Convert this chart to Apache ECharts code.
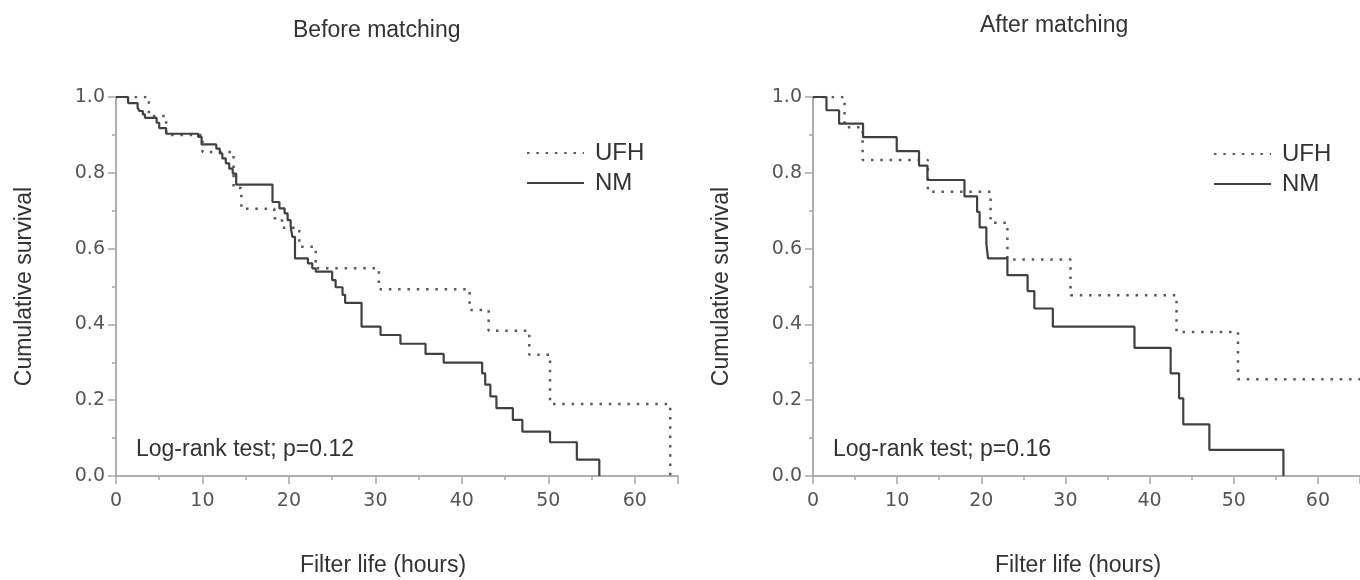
<!DOCTYPE html>
<html>
<head>
<meta charset="utf-8">
<script src="https://cdn.jsdelivr.net/npm/echarts@6/dist/echarts.min.js"></script>
<style>
  html, body { margin: 0; padding: 0; background: #fff; overflow: hidden; }
  #main { width: 1360px; height: 580px; }
</style>
</head>
<body>
<div id="main"></div>
<script>
// Before matching (hours / survival)
var beforeNmTime = [0, 1.4, 2.5, 2.7, 3.1, 3.35, 4.7, 5.0, 5.8, 9.5, 9.9, 11.6, 12.0, 12.3, 12.7, 13.1, 13.5, 13.9, 18.1, 18.9, 19.5, 19.85, 20.2, 20.4, 20.7, 22.2, 22.7, 23.1, 25.0, 25.4, 26.2, 26.5, 28.4, 30.6, 32.9, 35.8, 37.9, 42.35, 42.7, 43.3, 44.0, 45.9, 47.0, 50.2, 53.3, 55.9];
var beforeNmSurv = [1.0, 0.984, 0.972, 0.963, 0.954, 0.945, 0.932, 0.918, 0.903, 0.895, 0.875, 0.864, 0.851, 0.838, 0.825, 0.811, 0.798, 0.769, 0.723, 0.706, 0.693, 0.675, 0.658, 0.631, 0.574, 0.561, 0.548, 0.539, 0.517, 0.498, 0.478, 0.457, 0.394, 0.372, 0.349, 0.322, 0.299, 0.271, 0.241, 0.210, 0.179, 0.148, 0.117, 0.089, 0.043, 0];
var beforeUfhTime = [0, 3.8, 5.8, 10.0, 13.6, 14.5, 18.3, 19.2, 21.2, 23.1, 30.4, 40.9, 43.1, 47.8, 50.2, 64.1];
var beforeUfhSurv = [1.0, 0.95, 0.90, 0.855, 0.76, 0.705, 0.68, 0.655, 0.605, 0.548, 0.493, 0.438, 0.383, 0.32, 0.19, 0];

// After matching
var afterNmTime = [0, 1.6, 3.1, 5.95, 9.95, 12.6, 13.6, 18.0, 19.5, 19.8, 20.6, 20.8, 23.1, 25.5, 26.3, 28.5, 38.2, 42.5, 43.5, 44.0, 47.1, 55.9];
var afterNmSurv = [1.0, 0.965, 0.93, 0.894, 0.857, 0.819, 0.781, 0.738, 0.697, 0.656, 0.613, 0.574, 0.530, 0.488, 0.442, 0.394, 0.338, 0.271, 0.205, 0.136, 0.069, 0];
var afterUfhTime = [0, 3.75, 5.9, 13.65, 21.1, 23.1, 30.6, 43.2, 50.5, 65];
var afterUfhSurv = [1.0, 0.92, 0.834, 0.75, 0.668, 0.571, 0.477, 0.38, 0.255, 0.255];

var panelTitles = ['Before matching', 'After matching'];
var pValues = ['Log-rank test; p=0.12', 'Log-rank test; p=0.16'];
var groupNames = ['UFH', 'NM'];
var xName = 'Filter life (hours)';
var yName = 'Cumulative survival';

var axisGray = '#a8a8a8';
var textColor = '#333';
var tickFont = 'DejaVu Sans';
var textFont = 'Liberation Sans';

function pairs(t, s) {
  var out = [];
  for (var i = 0; i < t.length; i++) out.push([t[i], s[i]]);
  return out;
}

function bottomAxis(grid) {
  return {
    type: 'value', gridIndex: grid, min: 0, max: 65, interval: 10,
    axisLine: { show: true, lineStyle: { color: axisGray, width: 1.5 } },
    axisTick: { show: true, length: 8, lineStyle: { color: axisGray, width: 1.5 } },
    minorTick: { show: true, splitNumber: 2, length: 4, lineStyle: { color: axisGray, width: 1.5 } },
    axisLabel: { fontFamily: tickFont, fontSize: 19, color: '#555', margin: 16, showMaxLabel: false },
    splitLine: { show: false }
  };
}
function topAxis(grid) {
  return {
    type: 'value', gridIndex: grid, min: 0, max: 65, position: 'top',
    axisLine: { show: true, lineStyle: { color: axisGray, width: 1.5 } },
    axisTick: { show: false }, axisLabel: { show: false }, splitLine: { show: false }
  };
}
function leftAxis(grid) {
  return {
    type: 'value', gridIndex: grid, min: 0, max: 1, interval: 0.2,
    name: yName, nameLocation: 'middle', nameGap: 80, nameRotate: 90,
    nameTextStyle: { fontFamily: textFont, fontSize: 23, color: textColor },
    axisLine: { show: true, lineStyle: { color: axisGray, width: 1.5 } },
    axisTick: { show: true, length: 8, lineStyle: { color: axisGray, width: 1.5 } },
    minorTick: { show: true, splitNumber: 2, length: 4, lineStyle: { color: axisGray, width: 1.5 } },
    axisLabel: { fontFamily: tickFont, fontSize: 19, color: '#555', margin: 11,
      formatter: function (v) { return v.toFixed(1); } },
    splitLine: { show: false }
  };
}
function rightAxis(grid) {
  return {
    type: 'value', gridIndex: grid, min: 0, max: 1, position: 'right',
    axisLine: { show: true, lineStyle: { color: axisGray, width: 1.5 } },
    axisTick: { show: false }, axisLabel: { show: false }, splitLine: { show: false }
  };
}

function kmSeries(name, data, idx, dotted) {
  var col = dotted ? '#5a5a5a' : '#404040';
  return {
    name: name, type: 'line', step: 'end', data: data,
    xAxisIndex: idx, yAxisIndex: idx,
    symbol: 'none', animation: false,
    itemStyle: { color: col },
    lineStyle: dotted
      ? { color: col, width: 2.5, type: [2.5, 6.8] }
      : { color: col, width: 2.2 }
  };
}

function legendAt(left, top) {
  return {
    data: groupNames, orient: 'vertical', left: left, top: top,
    itemWidth: 57, itemHeight: 16, itemGap: 6,
    selectedMode: false,
    itemStyle: { opacity: 0 },
    textStyle: { fontFamily: textFont, fontSize: 24, color: textColor, padding: [0, 0, 0, 6] }
  };
}

function label(text, x, y, align) {
  return { type: 'text', x: x, y: y,
    style: { text: text, fontFamily: textFont, fontSize: 23, fill: textColor,
      textAlign: align, textVerticalAlign: 'middle' } };
}

var chart = echarts.init(document.getElementById('main'));
var option = {
  backgroundColor: '#fff',
  animation: false,
  title: [
    { text: panelTitles[0], left: 288, top: 14, textStyle: { fontFamily: textFont, fontSize: 23, fontWeight: 'normal', color: textColor } },
    { text: panelTitles[1], left: 975, top: 9, textStyle: { fontFamily: textFont, fontSize: 23, fontWeight: 'normal', color: textColor } }
  ],
  legend: [legendAt(521, 136), legendAt(1208, 137)],
  grid: [
    { left: 116, right: 682, top: 97, bottom: 104 },
    { left: 813, right: -12, top: 97, bottom: 104 }
  ],
  xAxis: [bottomAxis(0), topAxis(0), bottomAxis(1), topAxis(1)],
  yAxis: [leftAxis(0), rightAxis(0), leftAxis(1), rightAxis(1)],
  series: [
    kmSeries('UFH', pairs(beforeUfhTime, beforeUfhSurv), 0, true),
    kmSeries('NM', pairs(beforeNmTime, beforeNmSurv), 0, false),
    kmSeries('UFH', pairs(afterUfhTime, afterUfhSurv), 2, true),
    kmSeries('NM', pairs(afterNmTime, afterNmSurv), 2, false)
  ],
  graphic: [
    label(pValues[0], 136, 450, 'left'),
    label(pValues[1], 833, 450, 'left'),
    label(xName, 383, 566, 'center'),
    label(xName, 1078, 566, 'center')
  ]
};
chart.setOption(option);
</script>
</body>
</html>
